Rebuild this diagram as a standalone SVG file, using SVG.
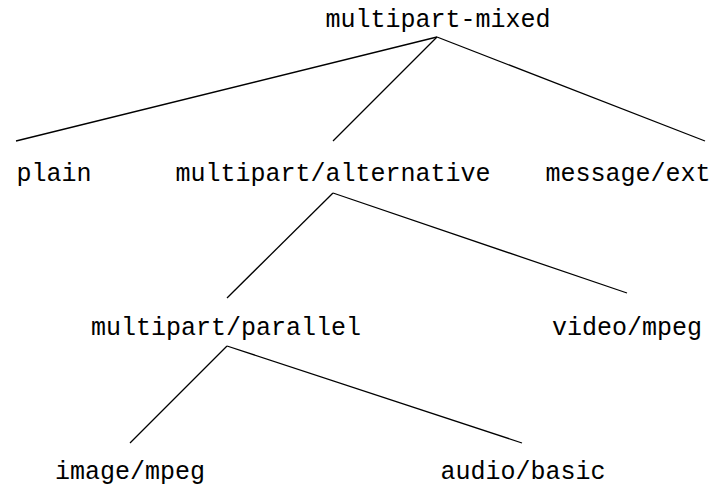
<svg xmlns="http://www.w3.org/2000/svg" width="709" height="487" viewBox="0 0 709 487">
<style>
text{font-family:"Liberation Mono","Courier New",monospace;font-size:25px;fill:#000;text-anchor:middle}
.c line{stroke:#000;stroke-width:1.3;fill:none}
</style>
<rect width="709" height="487" fill="#fff"/>
<g class="c" id="connectors">
<line x1="437" y1="37" x2="16" y2="141"/>
<line x1="437" y1="37" x2="333" y2="141"/>
<line x1="437" y1="37" x2="705" y2="141"/>
<line x1="333" y1="193" x2="227" y2="298"/>
<line x1="333" y1="193" x2="627" y2="293"/>
<line x1="227" y1="346" x2="130" y2="443"/>
<line x1="227" y1="346" x2="522" y2="443"/>
</g>
<g id="n-root"><text x="438" y="27">multipart-mixed</text></g>
<g id="n-plain"><text x="54" y="181">plain</text></g>
<g id="n-alt"><text x="333" y="181">multipart/alternative</text></g>
<g id="n-msg"><text x="628" y="181">message/ext</text></g>
<g id="n-par"><text x="226" y="335">multipart/parallel</text></g>
<g id="n-video"><text x="627" y="335">video/mpeg</text></g>
<g id="n-image"><text x="130" y="479">image/mpeg</text></g>
<g id="n-audio"><text x="523" y="479">audio/basic</text></g>
</svg>
